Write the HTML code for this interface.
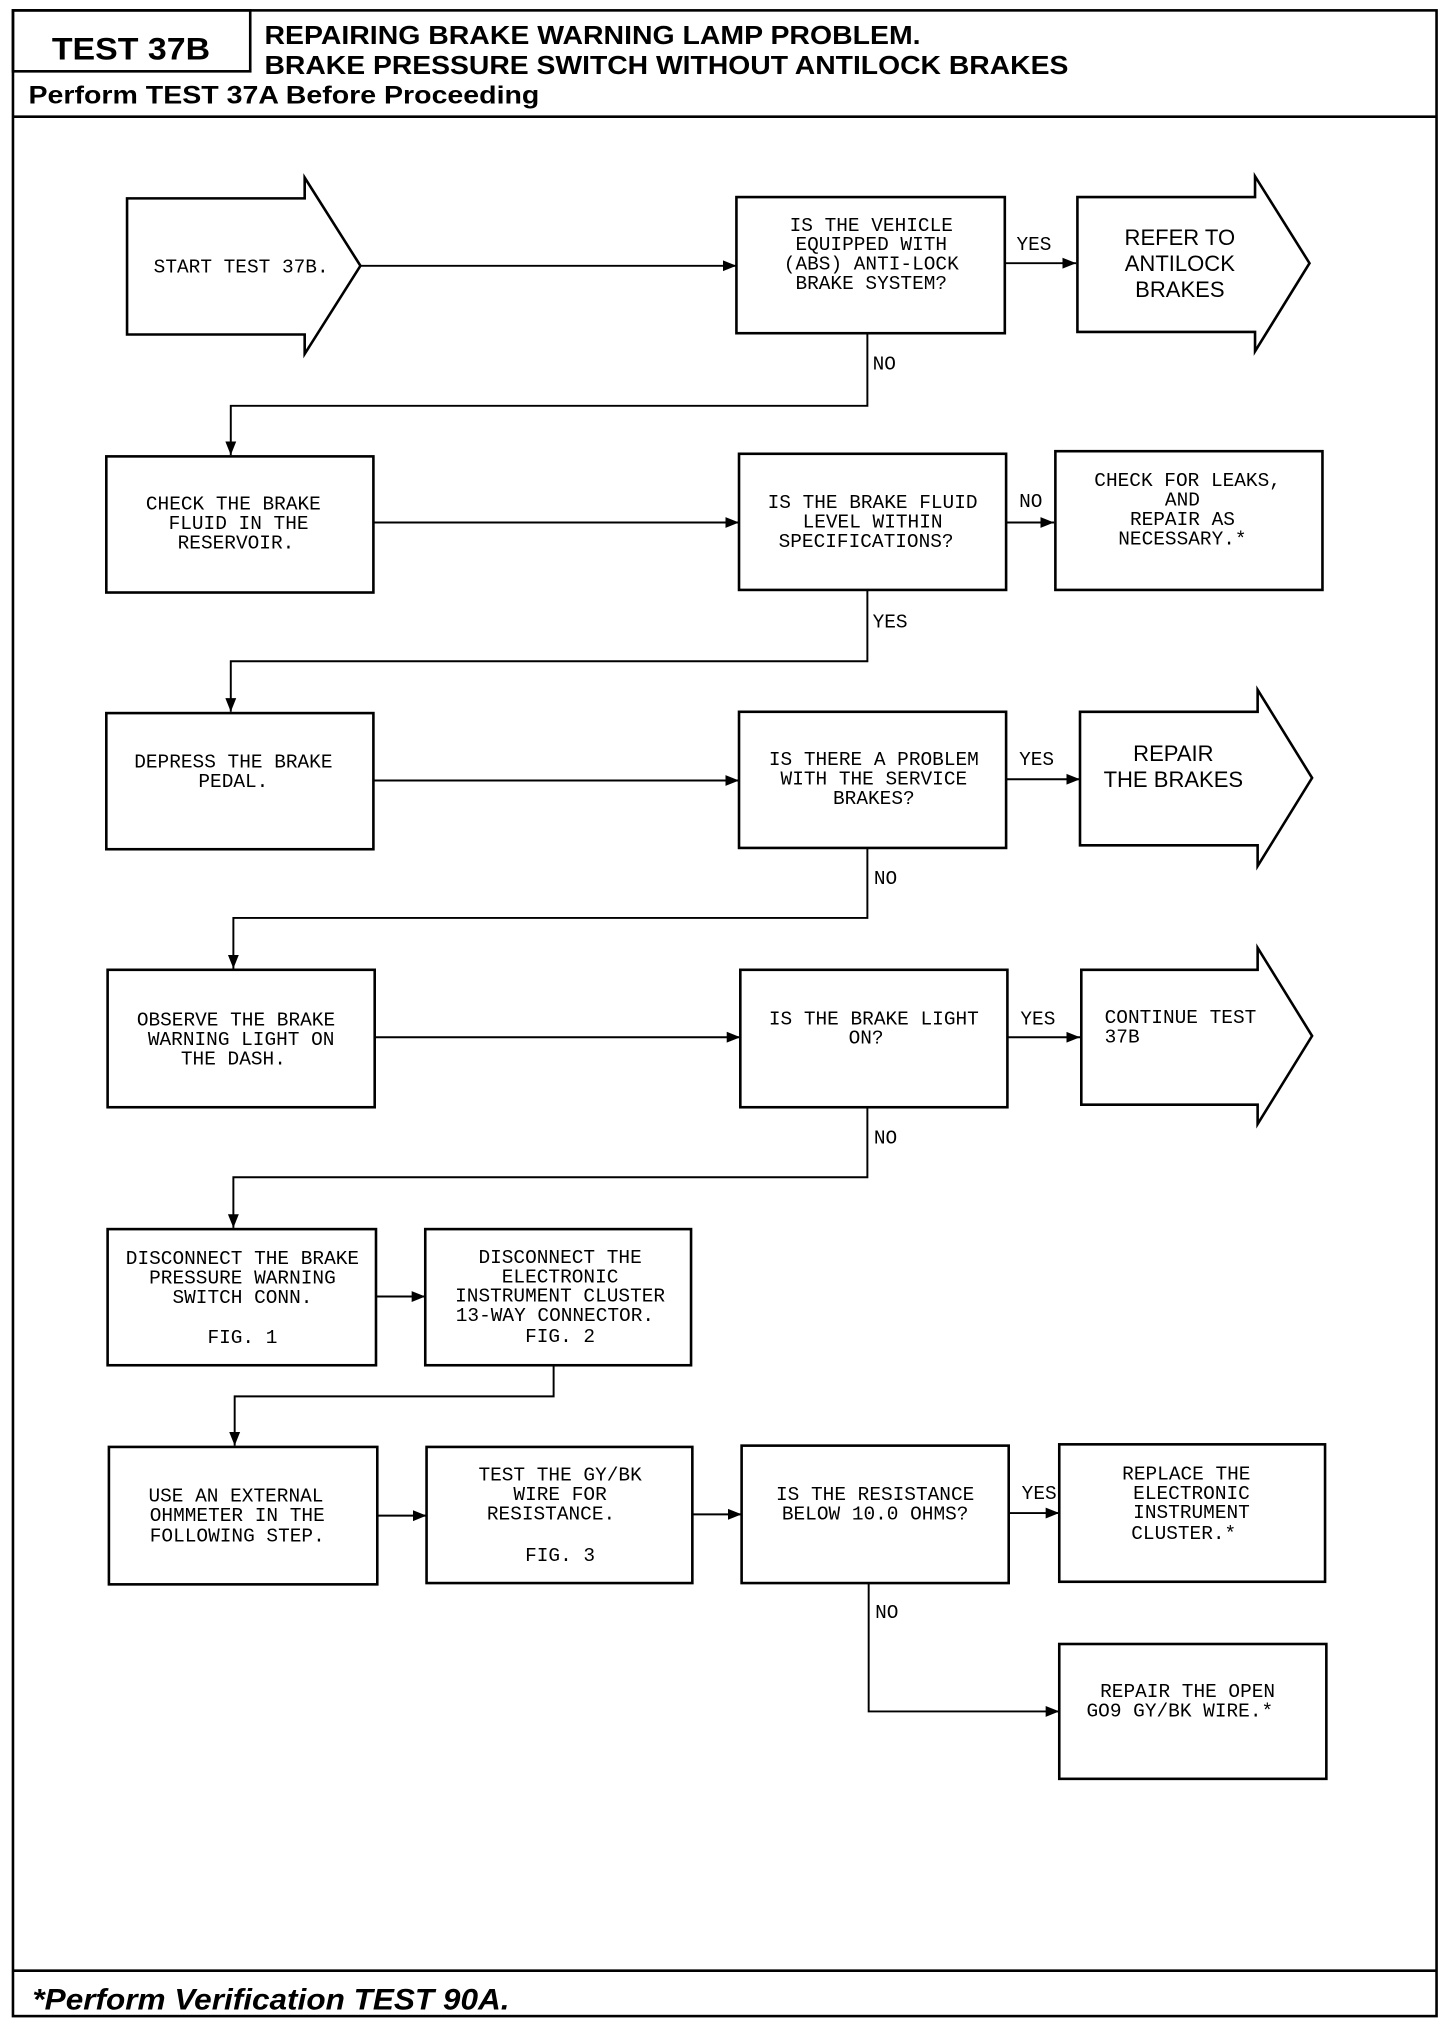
<!DOCTYPE html>
<html><head><meta charset="utf-8"><style>
html,body{margin:0;padding:0;background:#fff}
svg{display:block}
.m{font-family:"Liberation Mono",monospace;font-size:15px;text-anchor:middle}
.ml{font-family:"Liberation Mono",monospace;font-size:15px}
.s{font-family:"Liberation Sans",sans-serif;font-size:17px;text-anchor:middle}
.b{font-family:"Liberation Sans",sans-serif;font-weight:bold}
</style></head><body>
<svg width="1456" height="2020" viewBox="0 0 1123 1558" xmlns="http://www.w3.org/2000/svg">
<defs><marker id="a" viewBox="0 0 10 10" refX="10" refY="5" markerWidth="7" markerHeight="7" orient="auto"><path d="M0,1 L10,5 L0,9 z" fill="#000"/></marker></defs>
<g fill="none" stroke="#000" stroke-width="2">
<rect x="10" y="8" width="1098" height="1547"/>
<rect x="10" y="8" width="183" height="47"/>
<line x1="10" y1="90" x2="1108" y2="90"/>
<line x1="10" y1="1520" x2="1108" y2="1520"/>
<polygon points="98,153 235,153 235,137 278,205 235,273 235,258 98,258"/>
<rect x="568" y="152" width="207" height="105"/>
<polygon points="831,152 968,152 968,136 1010,203 968,271 968,256 831,256"/>
<rect x="82" y="352" width="206" height="105"/>
<rect x="570" y="350" width="206" height="105"/>
<rect x="814" y="348" width="206" height="107"/>
<rect x="82" y="550" width="206" height="105"/>
<rect x="570" y="549" width="206" height="105"/>
<polygon points="833,549 970,549 970,532 1012,600 970,668 970,652 833,652"/>
<rect x="83" y="748" width="206" height="106"/>
<rect x="571" y="748" width="206" height="106"/>
<polygon points="834,748 970,748 970,731 1012,799 970,867 970,852 834,852"/>
<rect x="83" y="948" width="207" height="105"/>
<rect x="328" y="948" width="205" height="105"/>
<rect x="84" y="1116" width="207" height="106"/>
<rect x="329" y="1116" width="205" height="105"/>
<rect x="572" y="1115" width="206" height="106"/>
<rect x="817" y="1114" width="205" height="106"/>
<rect x="817" y="1268" width="206" height="104"/>
</g>
<g fill="none" stroke="#000" stroke-width="1.5">
<line x1="278" y1="205" x2="568" y2="205" marker-end="url(#a)"/>
<line x1="775" y1="203" x2="830" y2="203" marker-end="url(#a)"/>
<polyline points="669,257 669,313 178,313 178,351" marker-end="url(#a)"/>
<line x1="288" y1="403" x2="570" y2="403" marker-end="url(#a)"/>
<line x1="776" y1="403" x2="813" y2="403" marker-end="url(#a)"/>
<polyline points="669,455 669,510 178,510 178,549" marker-end="url(#a)"/>
<line x1="288" y1="602" x2="570" y2="602" marker-end="url(#a)"/>
<line x1="776" y1="601" x2="833" y2="601" marker-end="url(#a)"/>
<polyline points="669,654 669,708 180,708 180,747" marker-end="url(#a)"/>
<line x1="289" y1="800" x2="571" y2="800" marker-end="url(#a)"/>
<line x1="777" y1="800" x2="833" y2="800" marker-end="url(#a)"/>
<polyline points="669,854 669,908 180,908 180,947" marker-end="url(#a)"/>
<line x1="290" y1="1000" x2="328" y2="1000" marker-end="url(#a)"/>
<polyline points="427,1053 427,1077 181,1077 181,1115" marker-end="url(#a)"/>
<line x1="291" y1="1169" x2="329" y2="1169" marker-end="url(#a)"/>
<line x1="534" y1="1168" x2="572" y2="1168" marker-end="url(#a)"/>
<line x1="778" y1="1167" x2="817" y2="1167" marker-end="url(#a)"/>
<polyline points="670,1221 670,1320 817,1320" marker-end="url(#a)"/>
</g>
<g fill="#000">
<text class="b" x="40" y="46" font-size="24" textLength="122" lengthAdjust="spacingAndGlyphs">TEST 37B</text>
<text class="b" x="204" y="34" font-size="20" textLength="506" lengthAdjust="spacingAndGlyphs">REPAIRING BRAKE WARNING LAMP PROBLEM.</text>
<text class="b" x="204" y="57" font-size="20" textLength="620" lengthAdjust="spacingAndGlyphs">BRAKE PRESSURE SWITCH WITHOUT ANTILOCK BRAKES</text>
<text class="b" x="22" y="80" font-size="19" textLength="394" lengthAdjust="spacingAndGlyphs">Perform TEST 37A Before Proceeding</text>
<text class="b" x="25" y="1550" font-size="23" font-style="italic" textLength="368" lengthAdjust="spacingAndGlyphs">*Perform Verification TEST 90A.</text>

<text class="m" x="186" y="210">START TEST 37B.</text>
<text class="m" x="672" y="178">IS THE VEHICLE</text>
<text class="m" x="672" y="193">EQUIPPED WITH</text>
<text class="m" x="672" y="208">(ABS) ANTI-LOCK</text>
<text class="m" x="672" y="223">BRAKE SYSTEM?</text>
<text class="ml" x="784" y="193">YES</text>
<text class="ml" x="673" y="285">NO</text>
<text class="s" x="910" y="189">REFER TO</text>
<text class="s" x="910" y="209">ANTILOCK</text>
<text class="s" x="910" y="229">BRAKES</text>

<text class="m" x="180" y="393">CHECK THE BRAKE</text>
<text class="m" x="184" y="408">FLUID IN THE</text>
<text class="m" x="182" y="423">RESERVOIR.</text>
<text class="m" x="673" y="392">IS THE BRAKE FLUID</text>
<text class="m" x="673" y="407">LEVEL WITHIN</text>
<text class="m" x="668" y="422">SPECIFICATIONS?</text>
<text class="ml" x="786" y="391">NO</text>
<text class="m" x="916" y="375">CHECK FOR LEAKS,</text>
<text class="m" x="912" y="390">AND</text>
<text class="m" x="912" y="405">REPAIR AS</text>
<text class="m" x="912" y="420">NECESSARY.*</text>
<text class="ml" x="673" y="484">YES</text>

<text class="m" x="180" y="592">DEPRESS THE BRAKE</text>
<text class="m" x="180" y="607">PEDAL.</text>
<text class="m" x="674" y="590">IS THERE A PROBLEM</text>
<text class="m" x="674" y="605">WITH THE SERVICE</text>
<text class="m" x="674" y="620">BRAKES?</text>
<text class="ml" x="786" y="590">YES</text>
<text class="s" x="905" y="587">REPAIR</text>
<text class="s" x="905" y="607">THE BRAKES</text>
<text class="ml" x="674" y="682">NO</text>

<text class="m" x="182" y="791">OBSERVE THE BRAKE</text>
<text class="m" x="186" y="806">WARNING LIGHT ON</text>
<text class="m" x="180" y="821">THE DASH.</text>
<text class="m" x="674" y="790">IS THE BRAKE LIGHT</text>
<text class="m" x="668" y="805">ON?</text>
<text class="ml" x="787" y="790">YES</text>
<text class="ml" x="852" y="789">CONTINUE TEST</text>
<text class="ml" x="852" y="804">37B</text>
<text class="ml" x="674" y="882">NO</text>

<text class="m" x="187" y="975">DISCONNECT THE BRAKE</text>
<text class="m" x="187" y="990">PRESSURE WARNING</text>
<text class="m" x="187" y="1005">SWITCH CONN.</text>
<text class="m" x="187" y="1036">FIG. 1</text>
<text class="m" x="432" y="974">DISCONNECT THE</text>
<text class="m" x="432" y="989">ELECTRONIC</text>
<text class="m" x="432" y="1004">INSTRUMENT CLUSTER</text>
<text class="m" x="428" y="1019">13-WAY CONNECTOR.</text>
<text class="m" x="432" y="1035">FIG. 2</text>

<text class="m" x="182" y="1158">USE AN EXTERNAL</text>
<text class="m" x="183" y="1173">OHMMETER IN THE</text>
<text class="m" x="183" y="1189">FOLLOWING STEP.</text>
<text class="m" x="432" y="1142">TEST THE GY/BK</text>
<text class="m" x="432" y="1157">WIRE FOR</text>
<text class="m" x="425" y="1172">RESISTANCE.</text>
<text class="m" x="432" y="1204">FIG. 3</text>
<text class="m" x="675" y="1157">IS THE RESISTANCE</text>
<text class="m" x="675" y="1172">BELOW 10.0 OHMS?</text>
<text class="ml" x="788" y="1156">YES</text>
<text class="m" x="915" y="1141">REPLACE THE</text>
<text class="m" x="919" y="1156">ELECTRONIC</text>
<text class="m" x="919" y="1171">INSTRUMENT</text>
<text class="m" x="913" y="1187">CLUSTER.*</text>
<text class="ml" x="675" y="1248">NO</text>
<text class="m" x="916" y="1309">REPAIR THE OPEN</text>
<text class="m" x="910" y="1324">GO9 GY/BK WIRE.*</text>
</g>
</svg>
</body></html>
